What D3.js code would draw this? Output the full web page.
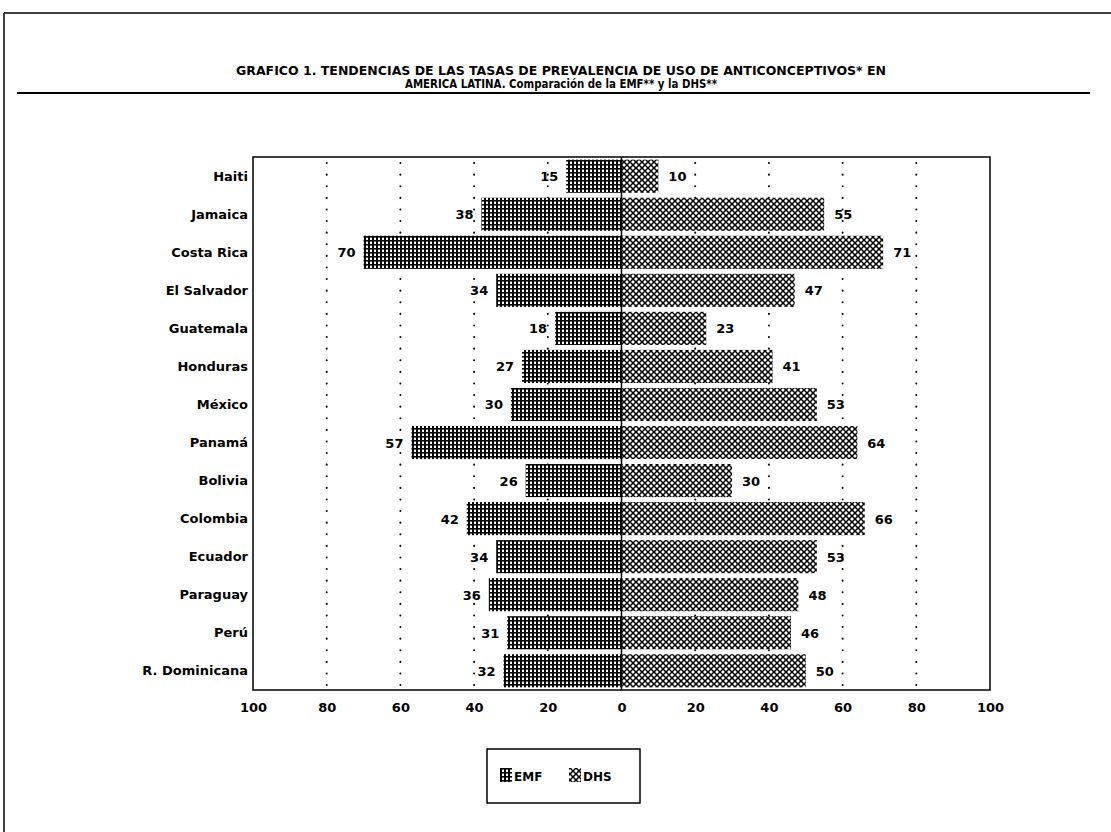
<!DOCTYPE html>
<html>
<head>
<meta charset="utf-8">
<script src="https://cdn.jsdelivr.net/npm/d3@7"></script>
<style>
  html, body { margin: 0; padding: 0; background: #fff; }
  svg { display: block; }
  text { font-family: "DejaVu Sans", "Liberation Sans", Arial, sans-serif; font-weight: bold; fill: #000; }
</style>
</head>
<body>
<svg id="chart" width="1111" height="832"></svg>
<script>
const categories = ["Haiti", "Jamaica", "Costa Rica", "El Salvador", "Guatemala", "Honduras", "México", "Panamá", "Bolivia", "Colombia", "Ecuador", "Paraguay", "Perú", "R. Dominicana"];
const emfValues = [15, 38, 70, 34, 18, 27, 30, 57, 26, 42, 34, 36, 31, 32];
const dhsValues = [10, 55, 71, 47, 23, 41, 53, 64, 30, 66, 53, 48, 46, 50];
const tickValues = [-100, -80, -60, -40, -20, 0, 20, 40, 60, 80, 100];
const seriesNames = ["EMF", "DHS"];
const titleLines = ["GRAFICO 1. TENDENCIAS DE LAS TASAS DE PREVALENCIA DE USO DE ANTICONCEPTIVOS* EN", "AMERICA LATINA. Comparación de la EMF** y la DHS**"];

const svg = d3.select("#chart");
const W = 1111, H = 832;
const plot = { left: 253, right: 990, top: 157, bottom: 690 };
const FONT = "DejaVu Sans, Liberation Sans, Arial, sans-serif";

// patterns
const defs = svg.append("defs");
const pEmf = defs.append("pattern").attr("id", "pEmf").attr("patternUnits", "userSpaceOnUse")
  .attr("width", 4).attr("height", 4);
pEmf.append("rect").attr("width", 4).attr("height", 4).attr("fill", "#fff");
pEmf.append("rect").attr("x", 0).attr("y", 0).attr("width", 2).attr("height", 4).attr("fill", "#000");
pEmf.append("rect").attr("x", 0).attr("y", 0).attr("width", 4).attr("height", 1.6).attr("fill", "#000");

const pDhs = defs.append("pattern").attr("id", "pDhs").attr("patternUnits", "userSpaceOnUse")
  .attr("width", 6).attr("height", 6);
pDhs.append("rect").attr("width", 6).attr("height", 6).attr("fill", "#fff");
pDhs.append("path").attr("d", "M-1,-1 L7,7 M-1,5 L1,7 M5,-1 L7,1").attr("stroke", "#000").attr("stroke-width", 1.5);
pDhs.append("path").attr("d", "M7,-1 L-1,7 M1,-1 L-1,1 M7,5 L5,7").attr("stroke", "#000").attr("stroke-width", 1.5);

// outer frame
svg.append("line").attr("x1", 4).attr("x2", W).attr("y1", 13).attr("y2", 13).attr("stroke", "#000").attr("stroke-width", 1.5);
svg.append("line").attr("x1", 4).attr("x2", 4).attr("y1", 13).attr("y2", H).attr("stroke", "#000").attr("stroke-width", 1.5);

// title
const titleWidths = [650, 312];
svg.selectAll("text.title").data(titleLines).join("text")
  .attr("class", "title")
  .attr("x", 561).attr("y", (d, i) => 75 + i * 13)
  .attr("text-anchor", "middle")
  .attr("font-family", "Liberation Sans, Arial, sans-serif")
  .attr("font-size", 12)
  .attr("textLength", (d, i) => titleWidths[i])
  .attr("lengthAdjust", "spacingAndGlyphs")
  .text(d => d);
svg.append("line").attr("x1", 17).attr("x2", 1090).attr("y1", 93).attr("y2", 93).attr("stroke", "#000").attr("stroke-width", 1.8);

// scales
const x = d3.scaleLinear().domain([-100, 100]).range([plot.left, plot.right]);
const y = d3.scaleBand().domain(categories).range([plot.top, plot.bottom]).paddingInner(0.13).paddingOuter(0.07);

// gridlines
svg.append("g").selectAll("line").data(tickValues.filter(t => t !== 0 && Math.abs(t) !== 100)).join("line")
  .attr("x1", d => x(d)).attr("x2", d => x(d))
  .attr("y1", plot.top + 6).attr("y2", plot.bottom)
  .attr("stroke", "#000").attr("stroke-width", 2)
  .attr("stroke-linecap", "round")
  .attr("stroke-dasharray", "0.1 11.5");

const data = categories.map((c, i) => ({ c, emf: emfValues[i], dhs: dhsValues[i] }));

// bars
svg.append("g").selectAll("rect").data(data).join("rect")
  .attr("x", d => x(-d.emf)).attr("y", d => y(d.c))
  .attr("width", d => x(0) - x(-d.emf)).attr("height", y.bandwidth())
  .attr("fill", "url(#pEmf)");
svg.append("g").selectAll("rect").data(data).join("rect")
  .attr("x", x(0)).attr("y", d => y(d.c))
  .attr("width", d => x(d.dhs) - x(0)).attr("height", y.bandwidth())
  .attr("fill", "url(#pDhs)");

// value labels
svg.append("g").selectAll("text").data(data).join("text")
  .attr("x", d => x(-d.emf) - 8).attr("y", d => y(d.c) + y.bandwidth() / 2 + 5)
  .attr("text-anchor", "end").attr("font-size", 13)
  .text(d => d.emf);
svg.append("g").selectAll("text").data(data).join("text")
  .attr("x", d => x(d.dhs) + 10).attr("y", d => y(d.c) + y.bandwidth() / 2 + 5)
  .attr("text-anchor", "start").attr("font-size", 13)
  .text(d => d.dhs);

// zero line and frame
svg.append("line").attr("x1", x(0)).attr("x2", x(0)).attr("y1", plot.top).attr("y2", plot.bottom).attr("stroke", "#000").attr("stroke-width", 1.5);
svg.append("rect").attr("x", plot.left).attr("y", plot.top).attr("width", plot.right - plot.left).attr("height", plot.bottom - plot.top)
  .attr("fill", "none").attr("stroke", "#000").attr("stroke-width", 1.5);

// category axis
const yAxis = d3.axisLeft(y).tickSize(0).tickPadding(5);
const gy = svg.append("g").attr("transform", `translate(${plot.left},0)`).call(yAxis);
gy.select(".domain").remove();
gy.selectAll("text").attr("font-size", 13).attr("font-family", FONT).attr("font-weight", "bold").attr("fill", "#000").attr("dy", "0.36em");

// x axis
const xAxis = d3.axisBottom(x).tickValues(tickValues).tickSize(0).tickPadding(13).tickFormat(d => Math.abs(d));
const gx = svg.append("g").attr("transform", `translate(0,${plot.bottom})`).call(xAxis);
gx.select(".domain").remove();
gx.selectAll("text").attr("font-size", 13).attr("font-family", FONT).attr("font-weight", "bold").attr("fill", "#000");

// legend
const lg = svg.append("g");
lg.append("rect").attr("x", 487).attr("y", 749).attr("width", 153).attr("height", 54)
  .attr("fill", "#fff").attr("stroke", "#000").attr("stroke-width", 1.5);
const legendItems = [
  { name: seriesNames[0], fill: "url(#pEmf)", x: 500 },
  { name: seriesNames[1], fill: "url(#pDhs)", x: 569 }
];
legendItems.forEach(it => {
  lg.append("rect").attr("x", it.x).attr("y", 768).attr("width", 12).attr("height", 14).attr("fill", it.fill);
  lg.append("text").attr("x", it.x + 14).attr("y", 781).attr("font-size", 12).text(it.name);
});
</script>
</body>
</html>
